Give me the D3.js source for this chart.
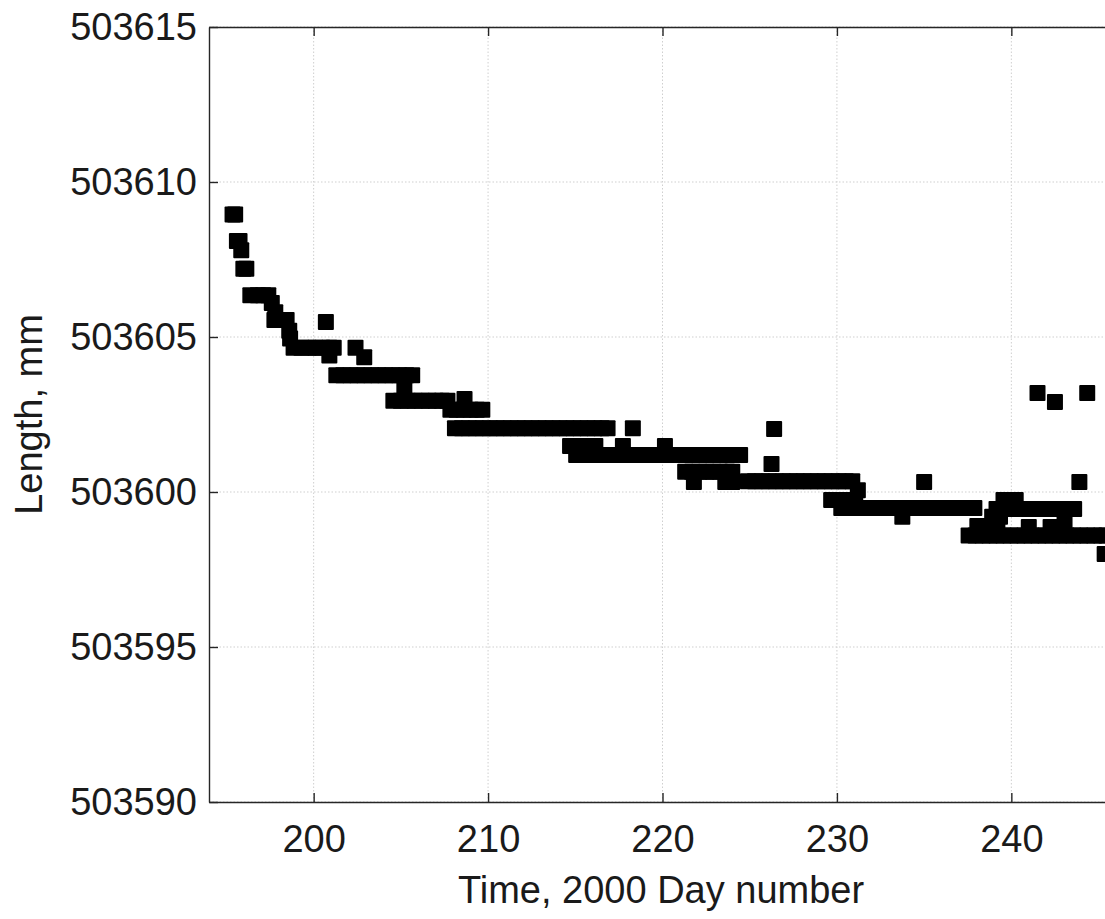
<!DOCTYPE html>
<html lang="en">
<head>
    <meta charset="UTF-8">
    <title>Length vs time</title>
    <script src="https://d3js.org/d3.v7.min.js"></script>
    <style>
        body { margin: 0; background: #fff; }
        svg { display: block; font-family: "Liberation Sans", Arial, Helvetica, sans-serif; }
        .axis path, .axis line { stroke: #262626; stroke-width: 1.4; }
        .axis text { fill: #1a1a1a; font-size: 38px; }
        .grid line { stroke: #cfcfcf; stroke-width: 1; stroke-dasharray: 1.5,2; }
    </style>
</head>
<body>
<div id="chart"></div>
<script>
    var firstDays = [
        [195.35, 503608.95], [195.5, 503608.95],
        [195.6, 503608.10], [195.75, 503608.10],
        [195.85, 503607.80],
        [195.97, 503607.20], [196.14, 503607.20],
        [196.37, 503606.35], [196.8, 503606.35], [197.1, 503606.35], [197.4, 503606.35],
        [197.6, 503606.10], [197.8, 503605.80],
        [197.75, 503605.55], [198.1, 503605.55], [198.45, 503605.55],
        [198.6, 503605.20], [198.65, 503604.95],
        [198.85, 503604.65], [199.3, 503604.65], [199.7, 503604.65], [200.1, 503604.65],
        [200.5, 503604.65], [200.9, 503604.65], [201.15, 503604.65],
        [200.7, 503605.48], [200.9, 503604.40], [202.4, 503604.65], [202.9, 503604.35]
    ];

    var middleDays = [
        [201.3, 503603.77], [201.7, 503603.77], [202.1, 503603.77], [202.5, 503603.77],
        [202.9, 503603.77], [203.3, 503603.77], [203.7, 503603.77], [204.1, 503603.77],
        [204.5, 503603.77], [204.9, 503603.77], [205.3, 503603.77], [205.65, 503603.77],
        [205.2, 503603.30],
        [204.57, 503602.94], [205.0, 503602.94], [205.4, 503602.94], [205.8, 503602.94],
        [206.2, 503602.94], [206.6, 503602.94], [207.0, 503602.94], [207.35, 503602.94],
        [207.67, 503602.94],
        [208.65, 503603.00],
        [207.84, 503602.65], [208.2, 503602.65], [208.6, 503602.65], [209.0, 503602.65],
        [209.35, 503602.65], [209.67, 503602.65],
        [208.1, 503602.06], [208.5, 503602.06], [208.9, 503602.06], [209.3, 503602.06],
        [209.7, 503602.06], [210.1, 503602.06], [210.5, 503602.06], [210.9, 503602.06],
        [211.3, 503602.06], [211.7, 503602.06], [212.1, 503602.06], [212.5, 503602.06],
        [212.9, 503602.06], [213.3, 503602.06], [213.7, 503602.06], [214.1, 503602.06],
        [214.5, 503602.06], [214.9, 503602.06], [215.3, 503602.06], [215.7, 503602.06],
        [216.1, 503602.06], [216.5, 503602.06], [216.85, 503602.06],
        [218.3, 503602.06],
        [214.7, 503601.48], [215.1, 503601.48], [215.5, 503601.48], [215.8, 503601.48],
        [216.15, 503601.48], [217.73, 503601.48], [220.14, 503601.48],
        [215.05, 503601.19], [215.45, 503601.19], [215.85, 503601.19], [216.25, 503601.19],
        [216.65, 503601.19], [217.05, 503601.19], [217.45, 503601.19], [217.85, 503601.19],
        [218.25, 503601.19], [218.65, 503601.19], [219.05, 503601.19], [219.45, 503601.19],
        [219.85, 503601.19], [220.25, 503601.19], [220.65, 503601.19], [221.05, 503601.19],
        [221.45, 503601.19], [221.85, 503601.19], [222.25, 503601.19], [222.65, 503601.19],
        [223.05, 503601.19], [223.45, 503601.19], [223.85, 503601.19], [224.2, 503601.19],
        [224.45, 503601.19],
        [221.3, 503600.65], [221.7, 503600.65], [222.1, 503600.65], [222.5, 503600.65],
        [222.9, 503600.65], [223.3, 503600.65], [223.7, 503600.65], [224.0, 503600.65],
        [221.8, 503600.32], [223.6, 503600.32], [224.0, 503600.32]
    ];

    var lateDays = [
        [224.9, 503600.35], [225.3, 503600.35], [225.7, 503600.35], [226.1, 503600.35],
        [226.5, 503600.35], [226.9, 503600.35], [227.3, 503600.35], [227.7, 503600.35],
        [228.1, 503600.35], [228.5, 503600.35], [228.9, 503600.35], [229.3, 503600.35],
        [229.7, 503600.35], [230.1, 503600.35], [230.5, 503600.35], [230.88, 503600.35],
        [226.4, 503602.03], [226.25, 503600.90],
        [229.67, 503599.74], [230.0, 503599.74], [230.4, 503599.74], [230.75, 503599.74],
        [231.05, 503599.74], [231.2, 503600.06],
        [230.25, 503599.48], [230.65, 503599.48], [231.05, 503599.48], [231.45, 503599.48],
        [231.85, 503599.48], [232.25, 503599.48], [232.65, 503599.48], [233.05, 503599.48],
        [233.45, 503599.48], [233.85, 503599.48], [234.25, 503599.48], [234.65, 503599.48],
        [235.05, 503599.48], [235.45, 503599.48], [235.85, 503599.48], [236.25, 503599.48],
        [236.65, 503599.48], [237.05, 503599.48], [237.45, 503599.48], [237.88, 503599.48],
        [233.75, 503599.20], [235.0, 503600.32],
        [241.5, 503603.19], [242.5, 503602.90], [244.35, 503603.19], [243.9, 503600.32],
        [239.55, 503599.74], [239.9, 503599.74], [240.25, 503599.74],
        [239.15, 503599.45], [239.6, 503599.45], [240.05, 503599.45],
        [238.9, 503599.20], [239.35, 503599.20],
        [238.05, 503598.90], [238.45, 503598.90], [238.8, 503598.90], [239.2, 503598.90],
        [237.55, 503598.60], [237.95, 503598.60], [238.35, 503598.60], [238.75, 503598.60],
        [239.15, 503598.60], [239.55, 503598.60], [239.95, 503598.60], [240.35, 503598.60],
        [240.75, 503598.60], [241.15, 503598.60], [241.55, 503598.60], [241.95, 503598.60],
        [242.35, 503598.60], [242.75, 503598.60], [243.15, 503598.60], [243.55, 503598.60],
        [243.95, 503598.60], [244.35, 503598.60], [244.75, 503598.60], [245.15, 503598.60],
        [245.45, 503598.60],
        [240.8, 503599.45], [241.2, 503599.45], [241.6, 503599.45], [242.0, 503599.45],
        [242.4, 503599.45], [242.8, 503599.45], [243.2, 503599.45], [243.6, 503599.45],
        [241.0, 503598.87], [242.25, 503598.87], [243.05, 503599.00],
        [245.35, 503598.00]
    ];

    var xTicks = [200, 210, 220, 230, 240];
    var yTicks = [503590, 503595, 503600, 503605, 503610, 503615];
    var xLabel = "Time, 2000 Day number";
    var yLabel = "Length, mm";

    var width = 1105, height = 919;
    var plot = { left: 209, top: 27, right: 1116, bottom: 802 };
    var markerSize = 16;

    var svg = d3.select("#chart").append("svg")
        .attr("width", width)
        .attr("height", height);

    var x = d3.scaleLinear()
        .domain([194, 246])
        .range([plot.left, plot.right]);

    var y = d3.scaleLinear()
        .domain([503590, 503615])
        .range([plot.bottom, plot.top]);

    // grid
    var grid = svg.append("g").attr("class", "grid");
    grid.selectAll(".gx").data(xTicks).enter().append("line")
        .attr("x1", function(d) { return x(d); })
        .attr("x2", function(d) { return x(d); })
        .attr("y1", plot.top)
        .attr("y2", plot.bottom);
    grid.selectAll(".gy").data(yTicks).enter().append("line")
        .attr("x1", plot.left)
        .attr("x2", plot.right)
        .attr("y1", function(d) { return y(d); })
        .attr("y2", function(d) { return y(d); });

    // data
    var points = firstDays.concat(middleDays, lateDays);
    svg.append("g").selectAll("rect").data(points).enter().append("rect")
        .attr("x", function(d) { return x(d[0]) - markerSize / 2; })
        .attr("y", function(d) { return y(d[1]) - markerSize / 2; })
        .attr("width", markerSize)
        .attr("height", markerSize)
        .attr("rx", 1)
        .style("fill", "#000");

    // axes, ticks pointing inwards
    svg.append("g")
        .attr("class", "axis")
        .attr("transform", "translate(0," + plot.bottom + ")")
        .call(d3.axisBottom(x).tickValues(xTicks).tickSizeInner(-9).tickSizeOuter(0).tickPadding(23));

    svg.append("g")
        .attr("class", "axis")
        .attr("transform", "translate(0," + plot.top + ")")
        .call(d3.axisTop(x).tickValues(xTicks).tickSizeInner(-9).tickSizeOuter(0).tickFormat(""));

    svg.append("g")
        .attr("class", "axis")
        .attr("transform", "translate(" + plot.left + ",0)")
        .call(d3.axisLeft(y).tickValues(yTicks).tickSizeInner(-9).tickSizeOuter(0).tickPadding(12)
            .tickFormat(d3.format("d")));

    svg.append("text")
        .attr("x", 661)
        .attr("y", 903)
        .attr("text-anchor", "middle")
        .style("font-size", "38px")
        .style("fill", "#1a1a1a")
        .text(xLabel);

    svg.append("text")
        .attr("transform", "translate(42," + ((plot.top + plot.bottom) / 2) + ") rotate(-90)")
        .attr("text-anchor", "middle")
        .style("font-size", "38px")
        .style("fill", "#1a1a1a")
        .text(yLabel);
</script>
</body>
</html>
